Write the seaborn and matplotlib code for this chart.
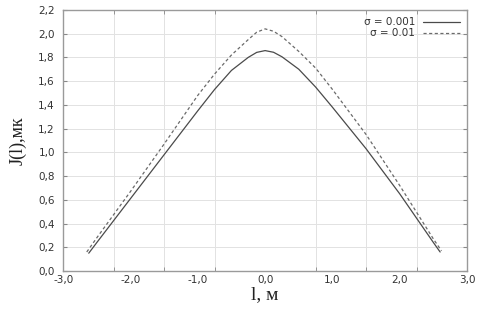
import numpy as np
import pandas as pd
import matplotlib.pyplot as plt
import matplotlib.ticker as mticker
import seaborn as sns

# values
l_001 = [-2.62, -2.5, -2.0, -1.5, -1.0, -0.75, -0.5, -0.25, -0.125, 0.0,
         0.125, 0.25, 0.5, 0.75, 1.0, 1.5, 2.0, 2.5, 2.6]
j_001 = [0.15, 0.24, 0.61, 0.98, 1.35, 1.53, 1.69, 1.80, 1.842, 1.857,
         1.843, 1.805, 1.70, 1.55, 1.38, 1.03, 0.65, 0.24, 0.16]

l_01 = [-2.65, -2.5, -2.0, -1.5, -1.0, -0.75, -0.5, -0.25, -0.125, 0.0,
        0.125, 0.25, 0.5, 0.75, 1.0, 1.5, 2.0, 2.5, 2.62]
j_01 = [0.16, 0.28, 0.67, 1.07, 1.48, 1.66, 1.82, 1.95, 2.012, 2.04,
        2.02, 1.975, 1.85, 1.71, 1.53, 1.15, 0.72, 0.27, 0.17]

x_ticks = [-3, -2, -1, 0, 1, 2, 3]
y_ticks = [0.0, 0.2, 0.4, 0.6, 0.8, 1.0, 1.2, 1.4, 1.6, 1.8, 2.0, 2.2]

sns.set_style("white")

fig = plt.figure(figsize=(4.86, 3.09), dpi=100)
ax = fig.add_axes([0.13, 0.123, 0.831, 0.845])

sns.lineplot(x=l_001, y=j_001, ax=ax, color="#4a4a4a", lw=0.9,
             label="σ = 0.001", sort=False)
sns.lineplot(x=l_01, y=j_01, ax=ax, color="#6a6a6a", lw=0.9,
             label="σ = 0.01", sort=False, linestyle=(0, (2.5, 2)))

ax.set_xlim(-3, 3)
ax.set_ylim(0, 2.2)

comma = mticker.FuncFormatter(lambda v, p: f"{v:.1f}".replace(".", ","))
ax.set_xticks(x_ticks)
ax.set_yticks(y_ticks)
ax.xaxis.set_major_formatter(comma)
ax.yaxis.set_major_formatter(comma)
ax.set_xticks(np.arange(-3, 3.01, 0.75), minor=True)

ax.tick_params(axis="x", which="major", length=0, labelsize=7.5,
               labelcolor="#333333", pad=3)
ax.tick_params(axis="x", which="minor", direction="in", length=3,
               color="#888888", top=True, bottom=True)
ax.tick_params(axis="y", which="major", direction="in", length=3,
               color="#888888", labelsize=7.5, labelcolor="#333333",
               left=True, right=True, pad=6)

ax.grid(False)
ax.grid(True, axis="x", which="minor", color="#e2e2e2", lw=0.7)
ax.grid(True, axis="y", which="major", color="#e2e2e2", lw=0.7)

for s in ax.spines.values():
    s.set_color("#9a9a9a")
    s.set_linewidth(1.0)

ax.set_xlabel("l, м", family="Liberation Serif", fontsize=14,
              color="#222222", labelpad=1)
ax.set_ylabel("J(l),мк", family="Liberation Serif", fontsize=13,
              color="#222222", labelpad=8)

leg = ax.legend(loc="upper right", frameon=False, markerfirst=False,
                fontsize=7.5, handlelength=3.5, borderaxespad=0.3,
                labelspacing=0.1, alignment="right")
for t in leg.get_texts():
    t.set_color("#333333")

fig.savefig("out.png", dpi=100)
